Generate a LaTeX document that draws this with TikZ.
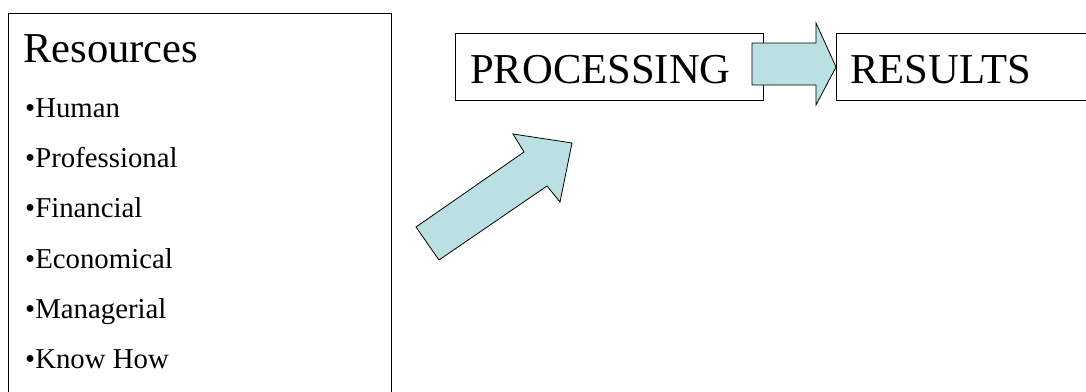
\documentclass[tikz,border=0pt]{standalone}
\usepackage{fontspec}
\setmainfont{Liberation Serif}
\definecolor{arrowfill}{HTML}{BBE0E3}
\tikzset{
  box/.style={draw=black, line width=1pt, rectangle, inner sep=0pt, anchor=north west},
  big/.style={anchor=base west, inner sep=0pt, font=\fontsize{42.6}{42.6}\selectfont},
  item/.style={anchor=base west, inner sep=0pt, font=\fontsize{28.8}{28.8}\selectfont},
  blockarrow/.style={draw=black, line width=0.8pt, fill=arrowfill, line join=miter}
}
\begin{document}
\begin{tikzpicture}[x=1pt, y=-1pt]
\useasboundingbox (0,0) rectangle (1086,391);
\clip (0,0) rectangle (1086,391);
\fill[white] (0,0) rectangle (1086,391);

% resources panel (runs past the lower edge)
\node[box, minimum width=383pt, minimum height=390pt] (resbox) at (8,13) {};
\node[big] (restitle) at (23,62) {Resources};
\node[item] (r1) at (25,117) {•Human};
\node[item] (r2) at (25,167) {•Professional};
\node[item] (r3) at (25,217) {•Financial};
\node[item] (r4) at (25,268) {•Economical};
\node[item] (r5) at (25,318) {•Managerial};
\node[item] (r6) at (25,368) {•Know How};

% processing and results boxes
\node[box, minimum width=308pt, minimum height=67pt] (proc) at (455,33) {};
\node[big] (proctext) at (470,83) {PROCESSING};
\node[box, minimum width=260pt, minimum height=67pt] (res) at (836,33) {};
\node[big] (restext) at (850,83) {RESULTS};

% diagonal block arrow into processing
\draw[blockarrow] (416,227) -- (524,152) -- (513,134) -- (572,143)
  -- (560,202) -- (547,186) -- (439,260) -- cycle;

% block arrow from processing to results
\draw[blockarrow] (752,43) -- (816,43) -- (816,23) -- (res.west)
  -- (816,105) -- (816,85) -- (752,85) -- cycle;
\end{tikzpicture}
\end{document}
